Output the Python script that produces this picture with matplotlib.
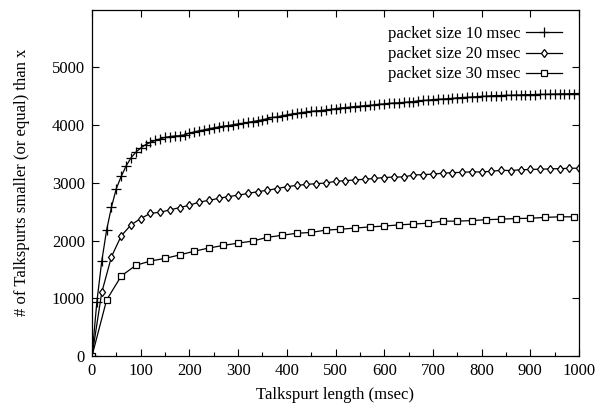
import matplotlib
matplotlib.use("Agg")
import matplotlib.pyplot as plt
import numpy as np

plt.rcParams['font.family'] = ['Liberation Serif', 'DejaVu Serif']

# packet size 10 msec
x10 = list(range(0, 1001, 10))
y10 = [0, 940, 1640, 2180, 2580, 2900, 3110, 3290, 3430, 3530,
       3600, 3660, 3700, 3735, 3760, 3785, 3800, 3810, 3815, 3830,
       3860, 3880, 3900, 3915, 3935, 3950, 3965, 3980, 3990, 4005,
       4020, 4030, 4045, 4060, 4075, 4090, 4110, 4130, 4140, 4160,
       4175, 4190, 4200, 4215, 4225, 4235, 4245, 4250, 4260, 4270,
       4280, 4295, 4300, 4310, 4320, 4325, 4335, 4340, 4350, 4360,
       4365, 4375, 4380, 4385, 4390, 4400, 4405, 4420, 4425, 4430,
       4440, 4445, 4450, 4455, 4460, 4470, 4475, 4480, 4485, 4490,
       4495, 4500, 4505, 4510, 4510, 4515, 4515, 4520, 4520, 4525,
       4525, 4528, 4530, 4530, 4535, 4535, 4538, 4540, 4540, 4545,
       4545]

# packet size 20 msec
x20 = list(range(0, 1001, 20))
y20 = [0, 1100, 1720, 2080, 2270, 2380, 2470, 2490, 2530, 2570,
       2610, 2665, 2695, 2730, 2760, 2785, 2815, 2845, 2870, 2900,
       2930, 2955, 2970, 2985, 2995, 3025, 3035, 3050, 3060, 3075,
       3090, 3100, 3100, 3135, 3140, 3150, 3165, 3175, 3180, 3190,
       3185, 3200, 3215, 3212, 3225, 3230, 3235, 3240, 3245, 3250,
       3252]

# packet size 30 msec
x30 = list(range(0, 991, 30))
y30 = [0, 970, 1385, 1570, 1645, 1690, 1750, 1815, 1870, 1915,
       1955, 1990, 2055, 2090, 2125, 2140, 2180, 2195, 2215, 2235,
       2250, 2270, 2285, 2300, 2335, 2335, 2345, 2360, 2370, 2380,
       2385, 2400, 2410, 2410]

labels = ['packet size 10 msec', 'packet size 20 msec', 'packet size 30 msec']

fig = plt.figure(figsize=(6.03, 4.07), dpi=100)
ax = fig.add_axes([92 / 603, 1 - 356 / 407, (579 - 92) / 603, (356 - 9.5) / 407])

ax.plot(x10, y10, color='black', lw=0.9, marker='+', ms=7, mew=0.9, label=labels[0])
ax.plot(x20, y20, color='black', lw=0.9, marker='d', ms=4.5, mew=0.9,
        mfc='white', label=labels[1])
ax.plot(x30, y30, color='black', lw=0.9, marker='s', ms=4.5, mew=0.9,
        mfc='white', label=labels[2])

ax.set_xlim(0, 1000)
ax.set_ylim(0, 6000)
ax.set_xticks(range(0, 1001, 100))
ax.set_xticks(range(50, 1000, 100), minor=True)
ax.set_yticks(range(0, 5001, 1000))
ax.tick_params(direction='in', top=True, right=True, labelsize=12, length=5, width=0.8, pad=5)
ax.tick_params(which='minor', direction='in', top=False, length=3, width=0.8)
for s in ax.spines.values():
    s.set_linewidth(0.9)

ax.set_xlabel('Talkspurt length (msec)', fontsize=12, labelpad=6)
ax.set_ylabel('# of Talkspurts smaller (or equal) than x', fontsize=12, labelpad=16)

leg = ax.legend(loc='upper right', markerfirst=False, frameon=False, fontsize=12,
                handlelength=2.2, handletextpad=0.3, labelspacing=0.25,
                borderaxespad=0.6)

fig.savefig('out.png', dpi=100)
